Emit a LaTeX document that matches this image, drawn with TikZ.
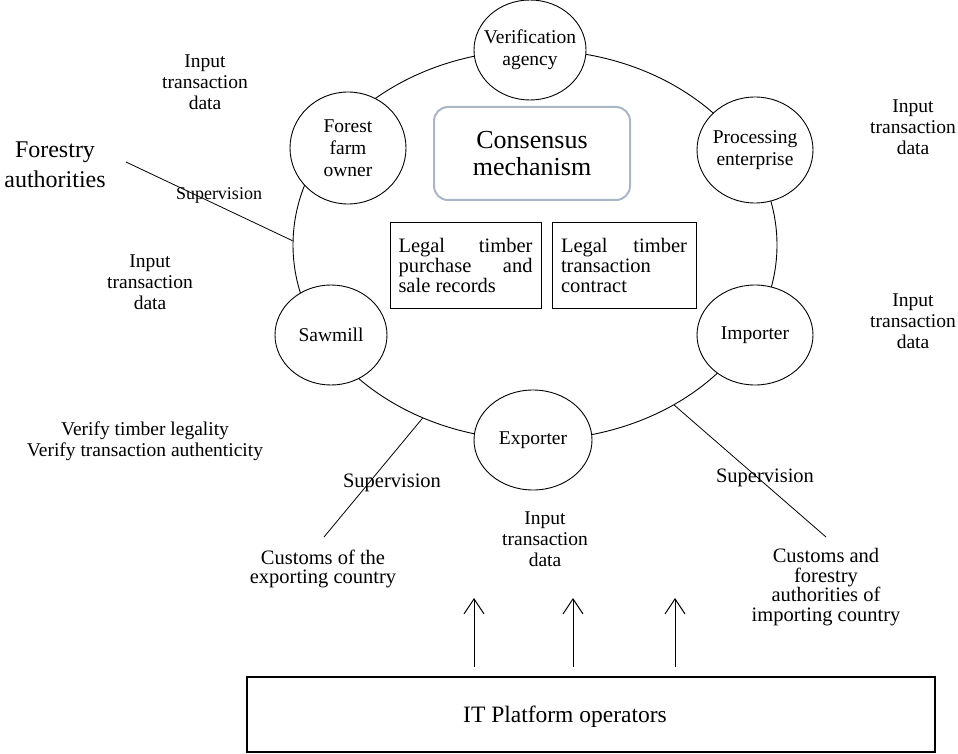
\documentclass[tikz,border=0pt]{standalone}
\usepackage{fontspec}
\setmainfont{Liberation Serif}
\usetikzlibrary{shapes.geometric,arrows.meta}
\definecolor{consborder}{HTML}{A9B6C8}
\begin{document}
\begin{tikzpicture}[x=1pt,y=-1pt,
  party/.style={ellipse,draw,fill=white,line width=0.9pt,inner xsep=-15pt,inner ysep=0pt,
    align=center,font=\fontsize{19.5}{22}\selectfont},
  note/.style={align=center,inner sep=0pt,font=\fontsize{19.5}{21}\selectfont},
  bignote/.style={align=center,inner sep=0pt,font=\fontsize{20.5}{19.5}\selectfont},
  legal/.style={draw,line width=1pt,align=justify,inner ysep=0pt,minimum height=86pt,
    font=\fontsize{20.5}{20}\selectfont,
    execute at begin node={\tolerance=10000\relax\hyphenpenalty=10000\relax}},
  wire/.style={line width=0.8pt},
  uparrow/.style={line width=1pt,-{Straight Barb[length=15pt,width=20pt]}}
]
\useasboundingbox (0,0) rectangle (958,754);

% ring
\node[ellipse,draw,line width=0.9pt,minimum width=484pt,minimum height=390pt,inner sep=0pt] (ring) at (535,245) {};

% parties
\node[party,minimum width=112pt,minimum height=100pt] (ver) at (530,50) {Verification\\agency};
\node[party,minimum width=116pt,minimum height=112pt] (forest) at (348,148) {Forest\\farm\\owner};
\node[party,minimum width=116pt,minimum height=106pt] (proc) at (755,150) {Processing\\enterprise};
\node[party,minimum width=112pt,minimum height=100pt] (saw) at (331,335) {Sawmill};
\node[party,minimum width=116pt,minimum height=100pt] (imp) at (755,335) {Importer};
\node[party,minimum width=118pt,minimum height=100pt] (exp) at (533,440) {Exporter};

% centre
\node[draw=consborder,line width=2pt,rounded corners=14pt,minimum width=196pt,minimum height=93pt,
  align=center,inner sep=0pt,font=\fontsize{26}{27}\selectfont] (cons) at (532,153.5) {Consensus\\mechanism};
\node[legal,text width=134pt,inner xsep=8.5pt] (leg1) at (465.5,265) {Legal timber\linebreak purchase and\linebreak sale records};
\node[legal,text width=126pt,inner xsep=9pt] (leg2) at (624,265) {Legal timber transaction contract};

% input labels
\node[note] (in1) at (205,82) {Input\\transaction\\data};
\node[note] (in2) at (913,127) {Input\\transaction\\data};
\node[note] (in3) at (150,282) {Input\\transaction\\data};
\node[note] (in4) at (913,321) {Input\\transaction\\data};
\node[note] (in5) at (545,539) {Input\\transaction\\data};

% forestry authorities
\node[align=center,inner sep=0pt,font=\fontsize{24}{30}\selectfont] (fa) at (55,165) {Forestry\\authorities};
\node[inner sep=0pt,font=\fontsize{18}{20}\selectfont] (sup1) at (219,195) {Supervision};
\coordinate (faend) at (126,162);
\draw[wire] (faend) -- (ring.179.5);

% verify
\node[note] (verify) at (145,441) {Verify timber legality\\Verify transaction authenticity};

% customs
\node[bignote] (sup2) at (392,483) {Supervision};
\node[bignote] (sup3) at (765,478) {Supervision};
\node[bignote] (cexp) at (323,569) {Customs of the\\exporting country};
\node[bignote] (cimp) at (826,587) {Customs and\\forestry\\authorities of\\importing country};
\coordinate (cexpend) at (324,537);
\coordinate (cimpend) at (826,537);
\draw[wire] (ring.237.5) -- (cexpend);
\draw[wire] (ring.311.6) -- (cimpend);

% IT platform
\node[draw,line width=2.5pt,minimum width=688pt,minimum height=75pt,inner sep=0pt] (it) at (591,714.5) {};
\node[inner sep=0pt,font=\fontsize{23.5}{26}\selectfont] (ittext) at (565,717) {IT Platform operators};
\coordinate (a1s) at (474,667); \coordinate (a1e) at (474,598);
\coordinate (a2s) at (573,667); \coordinate (a2e) at (573,598);
\coordinate (a3s) at (675,667); \coordinate (a3e) at (675,598);
\draw[uparrow] (a1s) -- (a1e);
\draw[uparrow] (a2s) -- (a2e);
\draw[uparrow] (a3s) -- (a3e);
\end{tikzpicture}
\end{document}
